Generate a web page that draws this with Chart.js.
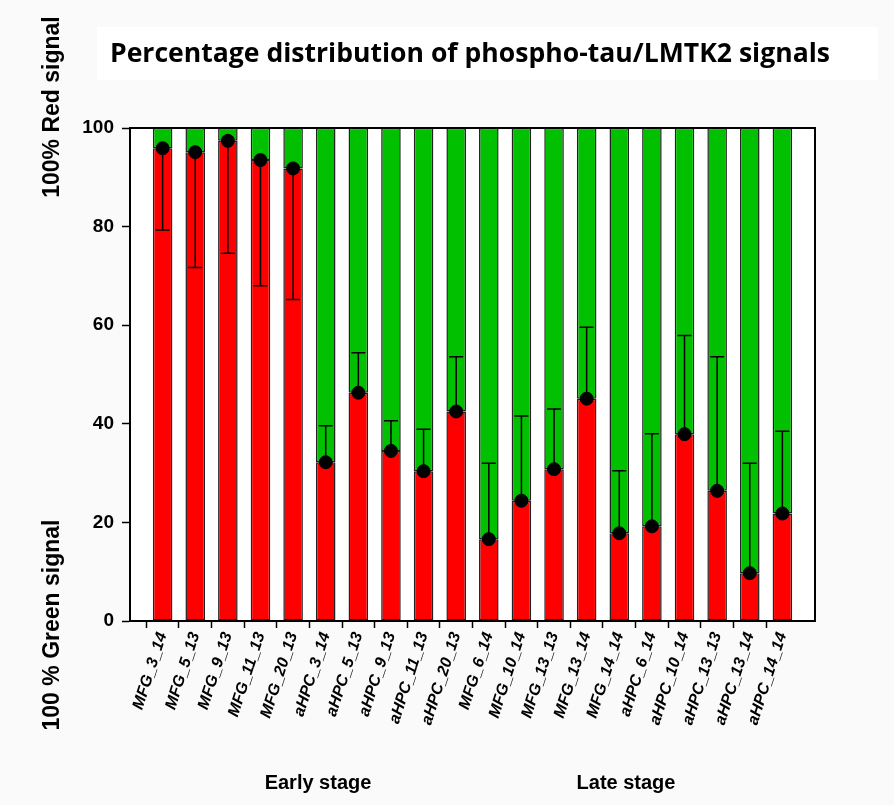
<!DOCTYPE html>
<html>
<head>
<meta charset="utf-8">
<script src="https://cdn.jsdelivr.net/npm/chart.js@4"></script>
<style>
  html, body { margin: 0; padding: 0; background: #fafafa; }
  #wrap { width: 894px; height: 805px; }
</style>
</head>
<body>
<div id="wrap"><canvas id="chart" width="894" height="805"></canvas></div>
<script>
// samples along the x axis
const categories = ['MFG_3_14', 'MFG_5_13', 'MFG_9_13', 'MFG_11_13', 'MFG_20_13',
    'aHPC_3_14', 'aHPC_5_13', 'aHPC_9_13', 'aHPC_11_13', 'aHPC_20_13',
    'MFG_6_14', 'MFG_10_14', 'MFG_13_13', 'MFG_13_14', 'MFG_14_14',
    'aHPC_6_14', 'aHPC_10_14', 'aHPC_13_13', 'aHPC_13_14', 'aHPC_14_14'];
// % red signal (mean), rest of the bar is green
const redPct = [95.9, 95.1, 97.4, 93.5, 91.8, 32.2, 46.3, 34.5, 30.4, 42.5,
    16.6, 24.4, 30.8, 45.1, 17.8, 19.2, 37.9, 26.4, 9.7, 21.8];
// where each error whisker ends
const errorEnd = [79.3, 71.7, 74.6, 68.0, 65.2, 39.6, 54.4, 40.6, 38.9, 53.6,
    32.0, 41.6, 43.0, 59.6, 30.5, 38.0, 57.9, 53.6, 32.0, 38.5];
const yTicks = [0, 20, 40, 60, 80, 100];
const groupLabels = ['Early stage', 'Late stage'];

const RED = '#ff0000';
const GREEN = '#00c000';
const ARIAL = '"Liberation Sans", Arial, sans-serif';

// one empty slot at each end so the frame has a full category of room
const labels = [''].concat(categories, ['']);
const pad = arr => [null].concat(arr, [null]);
const greenPct = redPct.map(v => 100 - v);

const decorPlugin = {
    id: 'decor',
    beforeDraw(chart) {
        const ctx = chart.ctx;
        const a = chart.chartArea;
        ctx.save();
        ctx.fillStyle = '#fafafa';
        ctx.fillRect(0, 0, chart.width, chart.height);
        ctx.fillStyle = '#ffffff';
        ctx.fillRect(a.left, a.top, a.right - a.left, a.bottom - a.top);
        ctx.fillRect(97, 27, 781, 53);
        ctx.restore();
    },
    afterDatasetsDraw(chart) {
        const ctx = chart.ctx;
        const x = chart.scales.x;
        const y = chart.scales.y;
        ctx.save();
        ctx.strokeStyle = '#000';
        ctx.lineWidth = 1.5;
        errorEnd.forEach((e, i) => {
            const px = x.getPixelForValue(i + 1);
            const y0 = y.getPixelForValue(redPct[i]);
            const y1 = y.getPixelForValue(e);
            ctx.beginPath();
            ctx.moveTo(px, y0);
            ctx.lineTo(px, y1);
            ctx.moveTo(px - 7, y1);
            ctx.lineTo(px + 7, y1);
            ctx.stroke();
        });
        ctx.restore();
    },
    afterDraw(chart) {
        const ctx = chart.ctx;
        const a = chart.chartArea;
        ctx.save();
        ctx.strokeStyle = '#000';
        ctx.lineWidth = 2;
        ctx.strokeRect(a.left, a.top, a.right - a.left, a.bottom - a.top);

        ctx.fillStyle = '#000';
        ctx.textBaseline = 'middle';
        ctx.textAlign = 'center';
        ctx.font = 'bold 27px "Open Sans", sans-serif';
        ctx.fillText('Percentage distribution of phospho-tau/LMTK2 signals', 470, 54, 720);

        ctx.font = 'bold 20px ' + ARIAL;
        ctx.fillText(groupLabels[0], 318, 783);
        ctx.fillText(groupLabels[1], 626, 783);

        ctx.font = 'bold 23px ' + ARIAL;
        ctx.translate(53, 107);
        ctx.rotate(-Math.PI / 2);
        ctx.fillText('100% Red signal', 0, 0);
        ctx.rotate(Math.PI / 2);
        ctx.translate(0, 518);
        ctx.rotate(-Math.PI / 2);
        ctx.fillText('100 % Green signal', 0, 0);
        ctx.restore();
    }
};

new Chart(document.getElementById('chart'), {
    type: 'bar',
    data: {
        labels: labels,
        datasets: [
            {
                type: 'line',
                label: 'mean',
                data: pad(redPct),
                stack: 'dots',
                showLine: false,
                pointRadius: 6.5,
                pointBackgroundColor: '#000',
                pointBorderColor: '#000',
                order: 0
            },
            {
                label: 'Red',
                data: pad(redPct),
                backgroundColor: RED,
                borderColor: '#222',
                borderWidth: 1.5,
                borderSkipped: false,
                barPercentage: 0.6,
                categoryPercentage: 1,
                stack: 'bars',
                order: 1
            },
            {
                label: 'Green',
                data: pad(greenPct),
                backgroundColor: GREEN,
                borderColor: '#222',
                borderWidth: 1.5,
                borderSkipped: false,
                barPercentage: 0.6,
                categoryPercentage: 1,
                stack: 'bars',
                order: 2
            }
        ]
    },
    options: {
        responsive: false,
        animation: false,
        layout: { padding: { top: 128, right: 79, left: 0, bottom: 0 } },
        plugins: {
            legend: { display: false },
            tooltip: { enabled: false }
        },
        scales: {
            x: {
                stacked: true,
                offset: false,
                afterFit(scale) { scale.height = 184; },
                grid: {
                    drawOnChartArea: false,
                    tickLength: 7,
                    tickWidth: 1.5,
                    tickColor: c => (c.index === 0 || c.index === labels.length - 1) ? 'rgba(0,0,0,0)' : '#000'
                },
                border: { color: '#000', width: 2 },
                ticks: {
                    autoSkip: false,
                    minRotation: 72,
                    maxRotation: 72,
                    padding: 2,
                    color: '#000',
                    font: { family: ARIAL, size: 16, weight: 'bold', style: 'italic' }
                }
            },
            y: {
                stacked: true,
                min: 0,
                max: 100,
                afterFit(scale) { scale.width = 130; },
                afterBuildTicks(scale) { scale.ticks = yTicks.map(v => ({ value: v })); },
                grid: {
                    drawOnChartArea: false,
                    tickLength: 8,
                    tickWidth: 1.5,
                    tickColor: '#000'
                },
                border: { color: '#000', width: 2 },
                ticks: {
                    padding: 8,
                    color: '#000',
                    font: { family: ARIAL, size: 19, weight: 'bold' }
                }
            }
        }
    },
    plugins: [decorPlugin]
});
</script>
</body>
</html>
